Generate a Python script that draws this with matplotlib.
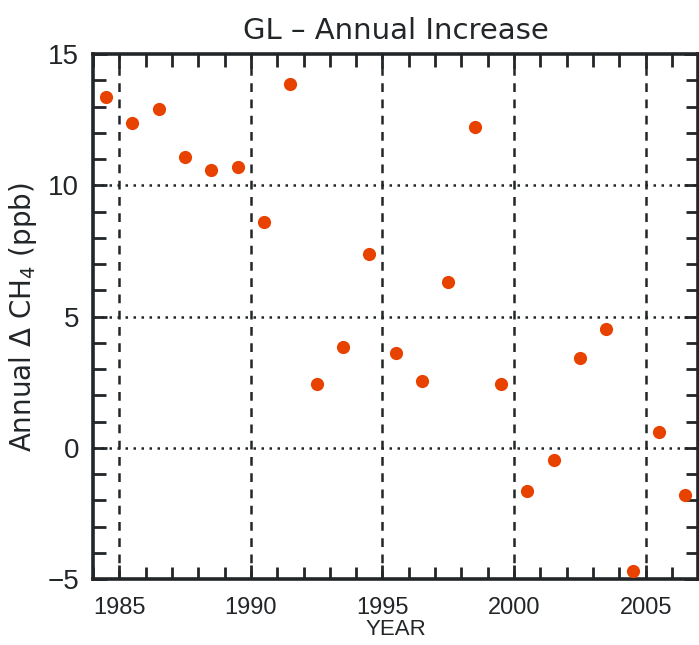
import numpy as np
import matplotlib
matplotlib.use("Agg")
import matplotlib.pyplot as plt
from matplotlib.ticker import MultipleLocator

# annual increase values
years = [1984.5, 1985.5, 1986.5, 1987.5, 1988.5, 1989.5, 1990.5, 1991.5,
         1992.5, 1993.5, 1994.5, 1995.5, 1996.5, 1997.5, 1998.5, 1999.5,
         2000.5, 2001.5, 2002.5, 2003.5, 2004.5, 2005.5, 2006.5]
increase = [13.35, 12.37, 12.90, 11.07, 10.57, 10.70, 8.61, 13.86,
            2.45, 3.86, 7.38, 3.63, 2.54, 6.33, 12.23, 2.45,
            -1.63, -0.46, 3.43, 4.53, -4.70, 0.59, -1.81]
x_ticks = [1985, 1990, 1995, 2000, 2005]
y_ticks = [-5, 0, 5, 10, 15]
y_grid = [0, 5, 10]

ink = "#222628"
plt.rcParams['font.family'] = ['Liberation Sans', 'DejaVu Sans']

fig = plt.figure(figsize=(6.99, 6.45), dpi=100)
ax = fig.add_axes([0.133, 0.102, 0.866, 0.814])

for x in x_ticks:
    ax.axvline(x, color=ink, lw=1.8, linestyle=(0, (3.5, 3)), zorder=1)
for y in y_grid:
    ax.axhline(y, color=ink, lw=1.8, linestyle=(0, (1, 2.2)), zorder=1)

ax.plot(years, increase, 'o', color="#E84200", markersize=9.5,
        markeredgewidth=0, zorder=3)

ax.set_xlim(1984, 2007)
ax.set_ylim(-5, 15)
ax.set_xticks(x_ticks)
ax.set_yticks(y_ticks)
ax.set_yticklabels(["\u22125", "0", "5", "10", "15"])
ax.xaxis.set_minor_locator(MultipleLocator(1))
ax.yaxis.set_minor_locator(MultipleLocator(1))
ax.tick_params(which='both', direction='in', top=True, right=True, color=ink)
ax.tick_params(which='major', length=10, width=2)
ax.tick_params(which='minor', length=9, width=2)
ax.tick_params(axis='x', which='major', labelsize=17, labelcolor=ink, pad=13)
ax.tick_params(axis='y', which='major', labelsize=20, labelcolor=ink, pad=10)

for s in ax.spines.values():
    s.set_linewidth(2.6)
    s.set_color(ink)

ax.set_title("GL \u2013 Annual Increase", fontsize=21, color=ink, pad=11,
             family='DejaVu Sans')
ax.set_xlabel("YEAR", fontsize=16, color=ink, labelpad=0)
ax.set_ylabel(r"Annual $\Delta$ CH$_4$ (ppb)", fontsize=20, color=ink,
              labelpad=6, family='DejaVu Sans')

fig.savefig("out.png", dpi=100)
